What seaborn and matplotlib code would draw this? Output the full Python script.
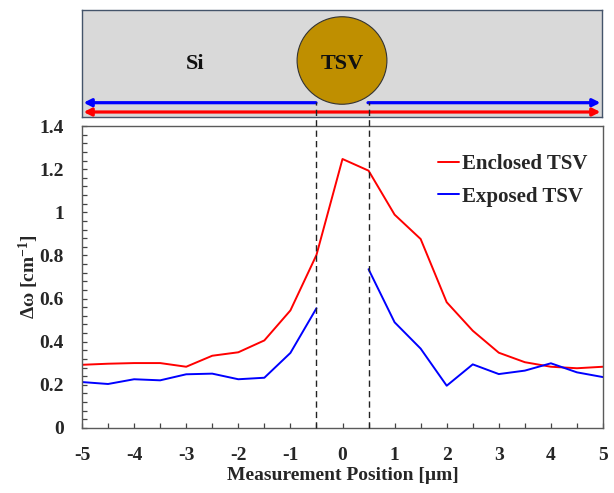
import numpy as np
import pandas as pd
import matplotlib
matplotlib.use("Agg")
import matplotlib.pyplot as plt
import seaborn as sns
from matplotlib.patches import Ellipse
from matplotlib.ticker import MultipleLocator, FixedLocator, FixedFormatter

# ---------------- data ----------------
positions = [-5, -4.5, -4, -3.5, -3, -2.5, -2, -1.5, -1, -0.5, 0,
             0.5, 1, 1.5, 2, 2.5, 3, 3.5, 4, 4.5, 5]
enclosed = [0.293, 0.298, 0.301, 0.301, 0.284, 0.335, 0.351, 0.406, 0.545, 0.802, 1.247,
            1.193, 0.989, 0.876, 0.583, 0.451, 0.349, 0.305, 0.284, 0.277, 0.284]
exposed = [0.213, 0.204, 0.226, 0.221, 0.249, 0.252, 0.226, 0.233, 0.348, 0.555, np.nan,
           0.736, 0.490, 0.368, 0.196, 0.295, 0.250, 0.266, 0.300, 0.258, 0.236]
series_names = ["Enclosed TSV", "Exposed TSV"]
series_colors = ["#ff0000", "#0000ff"]
x_ticks = [-5, -4, -3, -2, -1, 0, 1, 2, 3, 4, 5]
y_ticks = [0, 0.2, 0.4, 0.6, 0.8, 1.0, 1.2, 1.4]
y_tick_labels = ["0", "0.2", "0.4", "0.6", "0.8", "1", "1.2", "1.4"]
tsv_edges = [-0.5, 0.5]

# long-form table; the exposed series is split into two segments around the TSV gap
rows = []
for name, vals in zip(series_names, [enclosed, exposed]):
    for x, v in zip(positions, vals):
        if np.isnan(v):
            continue
        seg = 0 if (name == "Enclosed TSV" or x < 0) else 1
        rows.append({"x": x, "y": v, "series": name, "seg": seg})
df = pd.DataFrame(rows)

# ---------------- style ----------------
sns.set_theme(style="ticks")
plt.rcParams["font.family"] = ["Liberation Serif", "DejaVu Serif"]
plt.rcParams["font.weight"] = "bold"
plt.rcParams["axes.labelweight"] = "bold"
plt.rcParams["axes.unicode_minus"] = False
plt.rcParams["mathtext.fontset"] = "custom"
plt.rcParams["mathtext.rm"] = "Liberation Serif:bold"
plt.rcParams["mathtext.bf"] = "Liberation Serif:bold"
plt.rcParams["mathtext.it"] = "Liberation Serif:bold"
plt.rcParams["mathtext.default"] = "rm"

W, H = 614, 493
fig = plt.figure(figsize=(W / 100, H / 100), dpi=100)

# main axes
ax = fig.add_axes([82 / W, (H - 428) / H, 521 / W, 302 / H])
ax.set_zorder(3)
sns.lineplot(data=df, x="x", y="y", hue="series", units="seg", estimator=None,
             palette=dict(zip(series_names, series_colors)), hue_order=series_names,
             linewidth=1.4, ax=ax, legend=False)

ax.set_xlim(-5, 5)
ax.set_ylim(0, 1.4)
ax.xaxis.set_major_locator(FixedLocator(x_ticks))
ax.xaxis.set_minor_locator(MultipleLocator(0.5))
ax.yaxis.set_major_locator(FixedLocator(y_ticks))
ax.yaxis.set_major_formatter(FixedFormatter(y_tick_labels))
ax.yaxis.set_minor_locator(MultipleLocator(0.04))
ax.tick_params(which="both", direction="in", length=3.5, width=0.9, color="#444444",
               top=False, right=False)
ax.tick_params(axis="x", which="major", labelsize=14, pad=14)
ax.tick_params(axis="y", which="major", labelsize=14, pad=13)
for lab in ax.get_xticklabels() + ax.get_yticklabels():
    lab.set_fontweight("bold")
for s in ax.spines.values():
    s.set_visible(True)
    s.set_color("#5a5a5a")
    s.set_linewidth(1.0)

ax.set_xlabel("Measurement Position [µm]", fontsize=14, fontweight="bold", labelpad=1.5)
ax.set_ylabel(r"Δω [cm$^{-1}$]", fontsize=14, fontweight="bold", labelpad=-1)

# dashed TSV edge lines extending up into the schematic
for xe in tsv_edges:
    ax.plot([xe, xe], [0, 1.51], color="#222222", lw=1.0, ls=(0, (4.5, 3)),
            clip_on=False, zorder=5)

handles = [plt.Line2D([], [], color=c, lw=1.4) for c in series_colors]
ax.legend(handles, series_names, loc="upper left", bbox_to_anchor=(0.683, 0.907),
          frameon=False, handlelength=1.0, handletextpad=0.15,
          labelspacing=0.6, borderpad=0, borderaxespad=0,
          prop={"weight": "bold", "size": 15})

# ---------------- schematic ----------------
sch = fig.add_axes([82 / W, (H - 117) / H, 520 / W, 107 / H])
sch.set_zorder(1)
sch.set_xlim(-5, 5)
sch.set_ylim(107, 0)
sch.set_facecolor("#d9d9d9")
sch.set_xticks([])
sch.set_yticks([])
for s in sch.spines.values():
    s.set_visible(True)
    s.set_color("#44546a")
    s.set_linewidth(1.0)

sch.add_patch(Ellipse((0, 50.5), width=90 / 52.1, height=87.5, facecolor="#bf8f00",
                      edgecolor="#333333", lw=0.8, zorder=3))
sch.text(0, 54, "TSV", ha="center", va="center", fontsize=16, fontweight="bold",
         color="#111111", zorder=4)
sch.text(-2.82, 54, "Si", ha="center", va="center", fontsize=16, fontweight="bold",
         color="#111111")

arr_kw = dict(lw=2.3, mutation_scale=11, shrinkA=0, shrinkB=0)
sch.annotate("", xy=(-4.97, 92.7), xytext=(tsv_edges[0], 92.7),
             arrowprops=dict(arrowstyle="-|>", color="#0000ff", **arr_kw))
sch.annotate("", xy=(4.97, 92.7), xytext=(tsv_edges[1], 92.7),
             arrowprops=dict(arrowstyle="-|>", color="#0000ff", **arr_kw))
sch.annotate("", xy=(4.97, 102), xytext=(-4.97, 102),
             arrowprops=dict(arrowstyle="<|-|>", color="#ff0000", **arr_kw))

fig.savefig("out.png", dpi=100)
